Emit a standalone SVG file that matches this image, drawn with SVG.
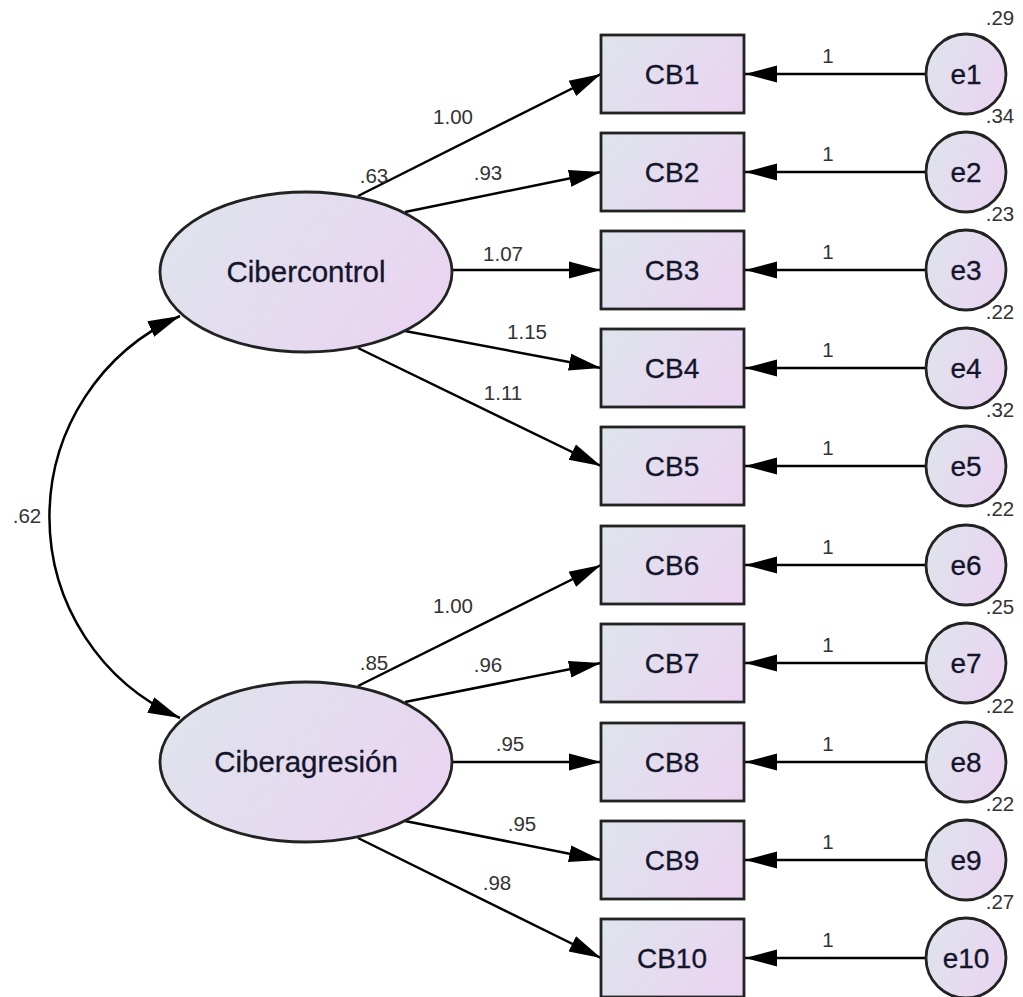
<svg xmlns="http://www.w3.org/2000/svg" width="1023" height="997" viewBox="0 0 1023 997">
<defs>
<linearGradient id="g" x1="0" y1="0.3" x2="1" y2="0.7">
<stop offset="0" stop-color="#dfe3ec"/>
<stop offset="1" stop-color="#ead4f2"/>
</linearGradient>
<marker id="ah" viewBox="-32 -10 32 20" refX="0" refY="0" markerWidth="32" markerHeight="20" markerUnits="userSpaceOnUse" orient="auto-start-reverse">
<path d="M0,0 L-32,-8.5 L-32,8.5 Z" fill="#000"/>
</marker>
</defs>
<style>
.n{fill:url(#g);stroke:#222;stroke-width:2.8}
.t{font-family:"Liberation Sans",Arial,sans-serif;font-size:28px;fill:#15152a;stroke:#15152a;stroke-width:0.3;text-anchor:middle}
.te{font-size:29.5px}
.l{font-family:"Liberation Sans",Arial,sans-serif;font-size:20.5px;fill:#333;text-anchor:middle}
.c{stroke:#000;stroke-width:2.5;fill:none;marker-end:url(#ah)}
</style>
<rect width="1023" height="997" fill="#fff"/>
<g id="connectors">
<path class="c" d="M180,316 A220,220 0 0 0 180,718" style="marker-start:url(#ah)"/>
<line class="c" x1="358" y1="196" x2="601" y2="74"/>
<line class="c" x1="405" y1="212" x2="601" y2="172"/>
<line class="c" x1="452" y1="270" x2="601" y2="270"/>
<line class="c" x1="405" y1="331" x2="601" y2="368"/>
<line class="c" x1="358" y1="348" x2="601" y2="466"/>
<line class="c" x1="358" y1="686" x2="601" y2="565"/>
<line class="c" x1="405" y1="702" x2="601" y2="663"/>
<line class="c" x1="452" y1="762" x2="601" y2="762"/>
<line class="c" x1="405" y1="821" x2="601" y2="860"/>
<line class="c" x1="358" y1="838" x2="601" y2="958"/>
<line class="c" x1="926" y1="74" x2="745" y2="74"/>
<line class="c" x1="926" y1="172" x2="745" y2="172"/>
<line class="c" x1="926" y1="270" x2="745" y2="270"/>
<line class="c" x1="926" y1="368" x2="745" y2="368"/>
<line class="c" x1="926" y1="466" x2="745" y2="466"/>
<line class="c" x1="926" y1="565" x2="745" y2="565"/>
<line class="c" x1="926" y1="663" x2="745" y2="663"/>
<line class="c" x1="926" y1="762" x2="745" y2="762"/>
<line class="c" x1="926" y1="860" x2="745" y2="860"/>
<line class="c" x1="926" y1="958" x2="745" y2="958"/>
<text class="l" x="27" y="523">.62</text>
<text class="l" x="453" y="124">1.00</text>
<text class="l" x="374" y="183">.63</text>
<text class="l" x="488" y="180">.93</text>
<text class="l" x="503" y="261">1.07</text>
<text class="l" x="527" y="339">1.15</text>
<text class="l" x="503" y="400">1.11</text>
<text class="l" x="453" y="613">1.00</text>
<text class="l" x="374" y="670">.85</text>
<text class="l" x="488" y="672">.96</text>
<text class="l" x="510" y="751">.95</text>
<text class="l" x="522" y="831">.95</text>
<text class="l" x="497" y="890">.98</text>
<text class="l" x="828" y="63">1</text>
<text class="l" x="828" y="161">1</text>
<text class="l" x="828" y="259">1</text>
<text class="l" x="828" y="357">1</text>
<text class="l" x="828" y="455">1</text>
<text class="l" x="828" y="554">1</text>
<text class="l" x="828" y="652">1</text>
<text class="l" x="828" y="751">1</text>
<text class="l" x="828" y="849">1</text>
<text class="l" x="828" y="947">1</text>
</g>
<g id="Cibercontrol"><ellipse class="n" cx="306" cy="272" rx="146" ry="80"/><text class="t te" x="306" y="282">Cibercontrol</text></g>
<g id="Ciberagresion"><ellipse class="n" cx="306" cy="762" rx="146" ry="80"/><text class="t te" x="306" y="772">Ciberagresión</text></g>
<g id="CB1"><rect class="n" x="601" y="35" width="143" height="78"/><text class="t" x="672" y="84">CB1</text></g>
<g id="CB2"><rect class="n" x="601" y="133" width="143" height="78"/><text class="t" x="672" y="182">CB2</text></g>
<g id="CB3"><rect class="n" x="601" y="231" width="143" height="78"/><text class="t" x="672" y="280">CB3</text></g>
<g id="CB4"><rect class="n" x="601" y="329" width="143" height="78"/><text class="t" x="672" y="378">CB4</text></g>
<g id="CB5"><rect class="n" x="601" y="427" width="143" height="78"/><text class="t" x="672" y="476">CB5</text></g>
<g id="CB6"><rect class="n" x="601" y="526" width="143" height="78"/><text class="t" x="672" y="575">CB6</text></g>
<g id="CB7"><rect class="n" x="601" y="624" width="143" height="78"/><text class="t" x="672" y="673">CB7</text></g>
<g id="CB8"><rect class="n" x="601" y="723" width="143" height="78"/><text class="t" x="672" y="772">CB8</text></g>
<g id="CB9"><rect class="n" x="601" y="821" width="143" height="78"/><text class="t" x="672" y="870">CB9</text></g>
<g id="CB10"><rect class="n" x="601" y="919" width="143" height="78"/><text class="t" x="672" y="968">CB10</text></g>
<g id="e1"><circle class="n" cx="966" cy="74" r="40"/><text class="t" x="966" y="84">e1</text><text class="l" x="1000" y="25">.29</text></g>
<g id="e2"><circle class="n" cx="966" cy="172" r="40"/><text class="t" x="966" y="182">e2</text><text class="l" x="1000" y="123">.34</text></g>
<g id="e3"><circle class="n" cx="966" cy="270" r="40"/><text class="t" x="966" y="280">e3</text><text class="l" x="1000" y="221">.23</text></g>
<g id="e4"><circle class="n" cx="966" cy="368" r="40"/><text class="t" x="966" y="378">e4</text><text class="l" x="1000" y="319">.22</text></g>
<g id="e5"><circle class="n" cx="966" cy="466" r="40"/><text class="t" x="966" y="476">e5</text><text class="l" x="1000" y="417">.32</text></g>
<g id="e6"><circle class="n" cx="966" cy="565" r="40"/><text class="t" x="966" y="575">e6</text><text class="l" x="1000" y="516">.22</text></g>
<g id="e7"><circle class="n" cx="966" cy="663" r="40"/><text class="t" x="966" y="673">e7</text><text class="l" x="1000" y="614">.25</text></g>
<g id="e8"><circle class="n" cx="966" cy="762" r="40"/><text class="t" x="966" y="772">e8</text><text class="l" x="1000" y="713">.22</text></g>
<g id="e9"><circle class="n" cx="966" cy="860" r="40"/><text class="t" x="966" y="870">e9</text><text class="l" x="1000" y="811">.22</text></g>
<g id="e10"><circle class="n" cx="966" cy="958" r="40"/><text class="t" x="966" y="968">e10</text><text class="l" x="1000" y="909">.27</text></g>
</svg>
